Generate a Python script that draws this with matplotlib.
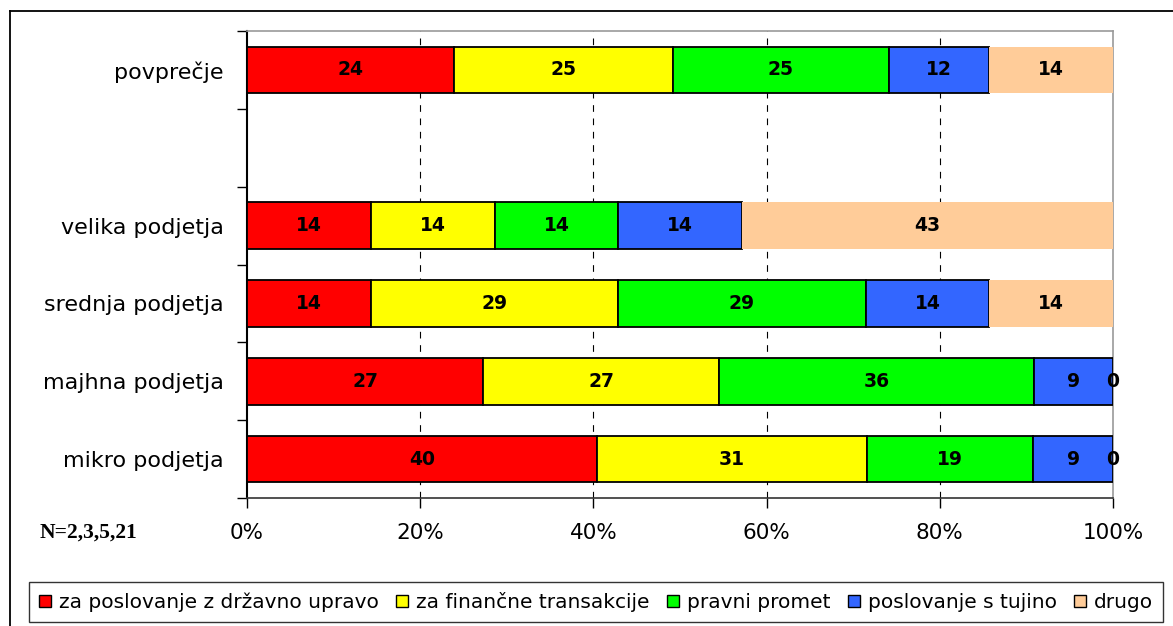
import matplotlib.pyplot as plt
from matplotlib.lines import Line2D
from matplotlib.patches import Patch
import numpy as np

plt.rcParams["font.family"] = ["DejaVu Sans"]

# kategorije od spodaj navzgor; prazno mesto loči povprečje od skupin
categories = ["mikro podjetja", "majhna podjetja", "srednja podjetja",
              "velika podjetja", "", "povprečje"]
series_names = ["za poslovanje z državno upravo", "za finančne transakcije",
                "pravni promet", "poslovanje s tujino", "drugo"]

drzavna = [40.4, 27.27, 14.29, 14.29, None, 23.9]
financne = [31.2, 27.27, 28.57, 14.29, None, 25.3]
pravni = [19.2, 36.36, 28.57, 14.29, None, 24.9]
tujina = [9.2, 9.09, 14.29, 14.29, None, 11.6]
drugo = [0.0, 0.0, 14.29, 42.86, None, 14.3]

colors = ["#FF0000", "#FFFF00", "#00FF00", "#3366FF", "#FFCC99"]
edges = ["black", "black", "black", "black", "none"]

fig = plt.figure(figsize=(11.73, 6.26), dpi=100)
ax = fig.add_axes([247 / 1173, 1 - 498 / 626, 866 / 1173, 467 / 626])

pos = np.arange(len(categories))
left = np.zeros(len(categories))
for vals, name, col, ec in zip([drzavna, financne, pravni, tujina, drugo],
                               series_names, colors, edges):
    for i, v in enumerate(vals):
        if v is None:
            continue
        ax.barh(pos[i], v, left=left[i], height=0.6, color=col,
                edgecolor=ec, linewidth=1.3, zorder=3)
        ax.text(left[i] + v / 2, pos[i], f"{v:.0f}", ha="center", va="center",
                fontsize=13.5, fontweight="bold", zorder=4)
        left[i] += v

ax.set_xlim(0, 100)
ax.set_ylim(-0.5, 5.5)
ax.set_xticks([0, 20, 40, 60, 80, 100])
ax.set_xticklabels(["0%", "20%", "40%", "60%", "80%", "100%"], fontsize=15.5)
ax.tick_params(axis="x", length=7, width=1, pad=11, color="black")

ax.set_yticks(pos)
ax.set_yticklabels(categories, fontsize=16)
ax.set_yticks(np.arange(-0.5, 6, 1), minor=True)
ax.tick_params(axis="y", which="major", length=0, pad=17)
ax.tick_params(axis="y", which="minor", length=7, width=1, color="black")

for x in [20, 40, 60, 80]:
    ax.axvline(x, color="black", linewidth=0.8, linestyle=(0, (6, 6)), zorder=1)

ax.spines["left"].set_color("black")
ax.spines["left"].set_linewidth(1.5)
ax.spines["bottom"].set_color("#333333")
ax.spines["bottom"].set_linewidth(1.2)
for s in ["top", "right"]:
    ax.spines[s].set_color("#999999")
    ax.spines[s].set_linewidth(1.2)

fig.text(40 / 1173, 1 - 533 / 626, "N=2,3,5,21", fontsize=15.5, fontweight="bold",
         family=["Liberation Serif", "DejaVu Serif"], va="center", ha="left")

handles = [Patch(facecolor=c, edgecolor="black", linewidth=1.0) for c in colors]
leg = fig.legend(handles, series_names, loc="center",
                 bbox_to_anchor=(596 / 1173, 1 - 602 / 626), ncol=5,
                 fontsize=14.5, frameon=True, fancybox=False, edgecolor="black",
                 handlelength=0.6, handleheight=0.6, handletextpad=0.4,
                 columnspacing=0.85, borderpad=0.5, borderaxespad=0)
leg.get_frame().set_linewidth(1.0)

# okvir slike (levi in zgornji rob)
fig.add_artist(Line2D([10 / 1173, 10 / 1173], [0, 1 - 11 / 626],
                      transform=fig.transFigure, color="black", linewidth=1.3))
fig.add_artist(Line2D([10 / 1173, 1], [1 - 11 / 626, 1 - 11 / 626],
                      transform=fig.transFigure, color="black", linewidth=1.3))

fig.savefig("out.png", dpi=100)
